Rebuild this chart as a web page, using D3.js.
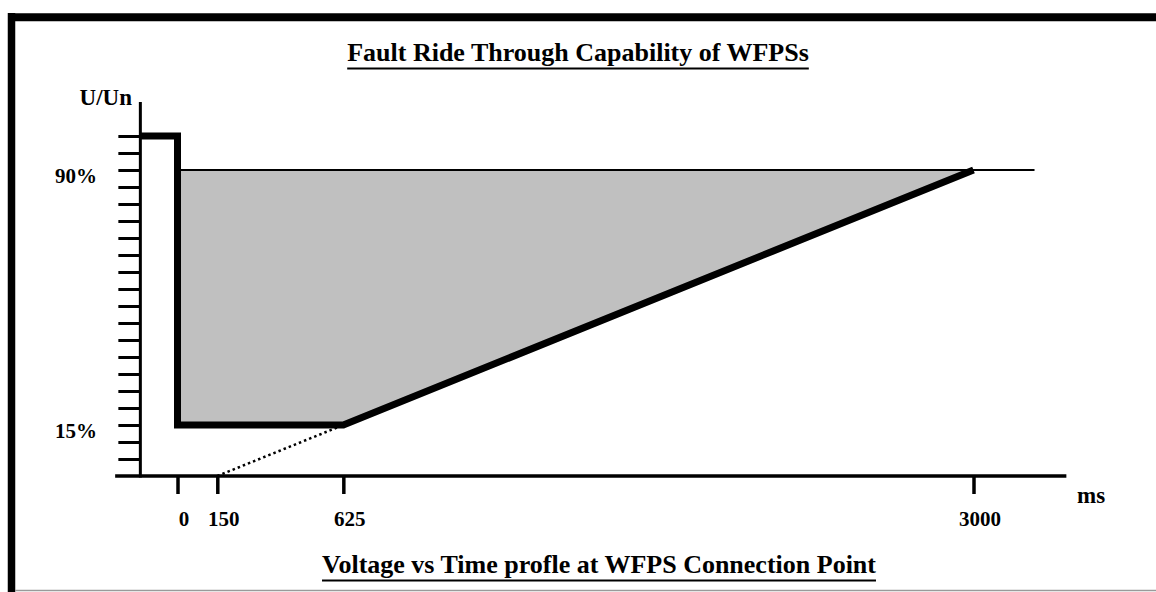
<!DOCTYPE html>
<html><head><meta charset="utf-8">
<script src="https://cdn.jsdelivr.net/npm/d3@7"></script>
<style>
html,body{margin:0;padding:0;background:#fff;}
svg{display:block;}
text{font-family:"Liberation Serif","Times New Roman",serif;font-weight:bold;fill:#000;}
</style></head>
<body>
<svg id="chart" width="1156" height="592"></svg>
<script>
// ---- data ----
const titleText = "Fault Ride Through Capability of WFPSs";
const subtitleText = "Voltage vs Time profle at WFPS Connection Point";
const yLabel = "U/Un";
const xLabel = "ms";
const xTickValues = [0, 150, 625, 3000];
const yTickValues = [5,10,15,20,25,30,35,40,45,50,55,60,65,70,75,80,85,90,95,100];
const yLabelValues = [90, 15];
const profileTime = [-140, 0, 0, 625, 3000];
const profileVolt = [100, 100, 15, 15, 90];
const areaTime = [0, 3000, 625, 0];
const areaVolt = [90, 90, 15, 15];
const refLineTime = [0, 3230];
const refLineVolt = [90, 90];
const dottedTime = [150, 625];
const dottedVolt = [0, 15];
const xAxisExtent = [-235, 3350];
const yAxisExtent = [0, 110];
const yAxisAt = -140;

// ---- drawing ----
const svg = d3.select("#chart");
const x = d3.scaleLinear().domain([0, 3000]).range([177.5, 973.5]);
const y = d3.scaleLinear().domain([0, 100]).range([476, 136]);

// frame
svg.append("line").attr("x1", 11.5).attr("x2", 11.5).attr("y1", 13).attr("y2", 592)
  .attr("stroke", "#000").attr("stroke-width", 7.5);
svg.append("line").attr("x1", 8).attr("x2", 1156).attr("y1", 17.3).attr("y2", 17.3)
  .attr("stroke", "#000").attr("stroke-width", 8);
svg.append("line").attr("x1", 15).attr("x2", 1156).attr("y1", 590.5).attr("y2", 590.5)
  .attr("stroke", "#9a9a9a").attr("stroke-width", 1.5);

// gray area
const area = areaTime.map((t, i) => [x(t), y(areaVolt[i])]);
svg.append("path").attr("d", d3.line()(area)).attr("fill", "#c0c0c0").attr("stroke", "none");

// reference 90% line
svg.append("path")
  .attr("d", d3.line()(refLineTime.map((t, i) => [x(t), y(refLineVolt[i])])))
  .attr("stroke", "#000").attr("stroke-width", 2).attr("fill", "none");

// dotted line
svg.append("path")
  .attr("d", d3.line()(dottedTime.map((t, i) => [x(t), y(dottedVolt[i])])))
  .attr("stroke", "#000").attr("stroke-width", 2.5).attr("stroke-dasharray", "2.5,3").attr("fill", "none");

// y axis
const yAxisG = svg.append("g").attr("transform", `translate(${x(yAxisAt)},0)`)
  .call(d3.axisLeft(y).tickValues(yTickValues).tickSize(22).tickSizeOuter(0).tickFormat(""));
yAxisG.select(".domain").remove();
yAxisG.selectAll(".tick line").attr("stroke", "#000").attr("stroke-width", 3);
svg.append("line").attr("x1", x(yAxisAt)).attr("x2", x(yAxisAt))
  .attr("y1", y(yAxisExtent[1])).attr("y2", y(yAxisExtent[0]) + 1.5)
  .attr("stroke", "#000").attr("stroke-width", 3);

// x axis
const xAxisG = svg.append("g").attr("transform", `translate(0,${y(0)})`)
  .call(d3.axisBottom(x).tickValues(xTickValues).tickSize(18).tickSizeOuter(0)
    .tickPadding(17).tickFormat(d3.format("d")));
xAxisG.select(".domain").remove();
xAxisG.selectAll(".tick line").attr("stroke", "#000").attr("stroke-width", 3.5);
xAxisG.selectAll(".tick text").attr("font-size", 21).attr("dx", 6)
  .attr("font-family", '"Liberation Serif","Times New Roman",serif').attr("font-weight", "bold").attr("fill", "#000");
svg.append("line").attr("x1", x(xAxisExtent[0])).attr("x2", x(xAxisExtent[1]))
  .attr("y1", y(0)).attr("y2", y(0)).attr("stroke", "#000").attr("stroke-width", 3.5);

// profile thick line
svg.append("path")
  .attr("d", d3.line()(profileTime.map((t, i) => [x(t), y(profileVolt[i])])))
  .attr("stroke", "#000").attr("stroke-width", 7).attr("fill", "none")
  .attr("stroke-linejoin", "miter").attr("stroke-linecap", "butt");

// y labels
svg.selectAll(".ylab").data(yLabelValues).enter().append("text")
  .attr("x", 97).attr("y", d => y(d) + 12.5).attr("text-anchor", "end").attr("font-size", 21)
  .text(d => d + "%");
svg.append("text").attr("x", 132).attr("y", 105).attr("text-anchor", "end").attr("font-size", 23).text(yLabel);
svg.append("text").attr("x", 1077).attr("y", 503).attr("font-size", 23).text(xLabel);

// titles with underline
function uTitle(txt, cx, by, fs, uy) {
  const t = svg.append("text").attr("x", cx).attr("y", by).attr("text-anchor", "middle")
    .attr("font-size", fs).text(txt);
  const w = t.node().getComputedTextLength();
  svg.append("line").attr("x1", cx - w / 2).attr("x2", cx + w / 2).attr("y1", uy).attr("y2", uy)
    .attr("stroke", "#000").attr("stroke-width", 2.2);
}
uTitle(titleText, 578, 61, 26, 68.5);
uTitle(subtitleText, 599, 573, 26, 580.5);
</script>
</body></html>
